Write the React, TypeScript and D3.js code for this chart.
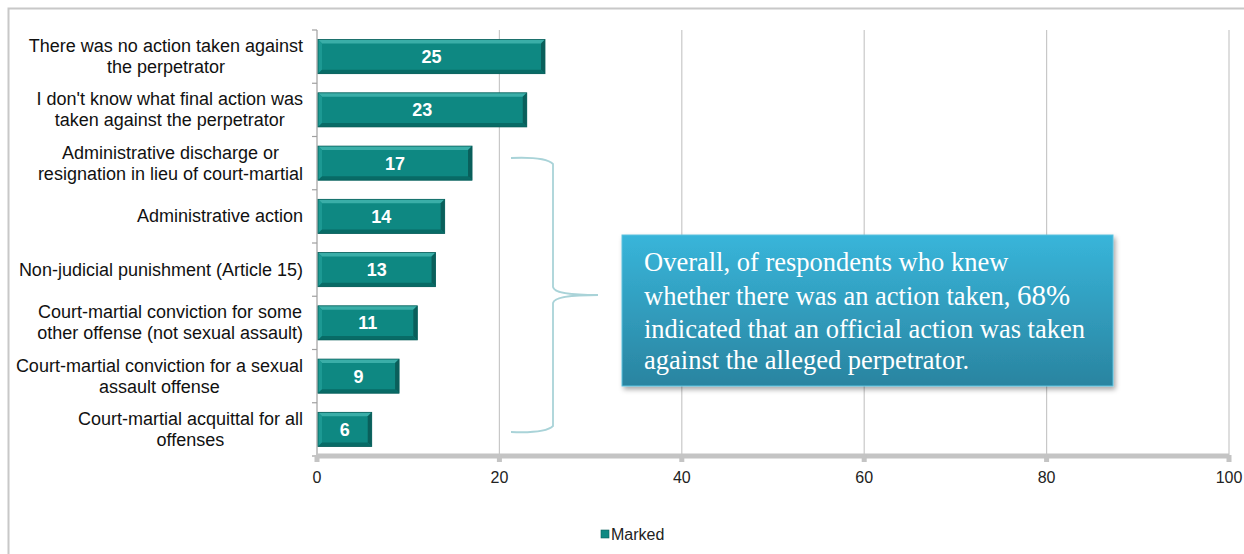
import React from "react";
import * as d3 from "d3";

const categories: string[][] = [
  ["There was no action taken against", "the perpetrator"],
  ["I don't know what final action was", "taken against the perpetrator"],
  ["Administrative discharge or", "resignation in lieu of court-martial"],
  ["Administrative action"],
  ["Non-judicial punishment (Article 15)"],
  ["Court-martial conviction for some", "other offense (not sexual assault)"],
  ["Court-martial conviction for a sexual", "assault offense"],
  ["Court-martial acquittal for all", "offenses"],
];
const values: number[] = [25, 23, 17, 14, 13, 11, 9, 6];
const xTicks: number[] = [0, 20, 40, 60, 80, 100];
const seriesName = "Marked";
const calloutLines: string[] = [
  "Overall, of respondents who knew",
  "whether there was an action taken, ",
  "indicated that an official action was taken",
  "against the alleged perpetrator.",
];

const W = 1244, H = 554;
const left = 317, right = 1229, top = 30, bottom = 456;
const LABEL_FONT = 18;
const LABEL_RIGHT = 303;

let ctx: CanvasRenderingContext2D | null = null;
function measure(s: string): number {
  if (!ctx) ctx = document.createElement("canvas").getContext("2d");
  if (!ctx) return s.length * LABEL_FONT * 0.5;
  ctx.font = `${LABEL_FONT}px Arial, 'Liberation Sans', sans-serif`;
  return ctx.measureText(s).width;
}

export default function App() {
  const x = d3.scaleLinear().domain([0, 100]).range([left, right]);
  const y = d3.scaleBand<number>().domain(d3.range(categories.length)).range([top, bottom]).paddingInner(0.36).paddingOuter(0.18);
  const band = (bottom - top) / categories.length;
  const bev = 4;
  return (
    <svg width={W} height={H} style={{ position: "absolute", left: 0, top: 0, display: "block" }} fontFamily="Arial, 'Liberation Sans', sans-serif">
      <defs>
        <linearGradient id="cg" x1="0" y1="0" x2="0" y2="1">
          <stop offset="0" stopColor="#38b5da" />
          <stop offset="1" stopColor="#2a84a0" />
        </linearGradient>
        <filter id="sh" x="-5%" y="-5%" width="115%" height="125%">
          <feDropShadow dx="2" dy="3" stdDeviation="2.5" floodColor="#000" floodOpacity="0.35" />
        </filter>
      </defs>
      <rect x={0} y={0} width={W} height={H} fill="#fff" />
      <rect x={8.5} y={8.5} width={W + 10} height={H + 10} fill="none" stroke="#c8c8c8" strokeWidth={2} />
      {xTicks.slice(1).map((t) => (
        <line key={t} x1={x(t)} x2={x(t)} y1={top} y2={bottom} stroke="#c8c8c8" strokeWidth={1.2} />
      ))}
      <line x1={left} x2={left} y1={top} y2={bottom} stroke="#a0a0a0" strokeWidth={1.2} />
      {d3.range(categories.length + 1).map((i) => (
        <line key={i} x1={left - 5} x2={left} y1={top + i * band} y2={top + i * band} stroke="#a0a0a0" strokeWidth={1.2} />
      ))}
      <line x1={left} x2={right} y1={bottom} y2={bottom} stroke="#c4c4c4" strokeWidth={5} />
      {xTicks.map((t) => (
        <g key={t}>
          <rect x={x(t) - 2.5} y={bottom - 1} width={5} height={7} fill="#c4c4c4" />
          <text x={x(t)} y={bottom + 27} textAnchor="middle" fontSize={16} fill="#222">{t}</text>
        </g>
      ))}
      {values.map((v, i) => {
        const y0 = y(i)!, h = y.bandwidth();
        const x0 = x(0) + 1, x1 = x(v);
        return (
          <g key={i}>
            <rect x={x0} y={y0} width={x1 - x0} height={h} fill="#0e8882" />
            <polygon points={`${x0},${y0} ${x1},${y0} ${x1 - bev},${y0 + bev} ${x0 + bev},${y0 + bev}`} fill="#3aaea8" />
            <polygon points={`${x0},${y0} ${x0 + bev},${y0 + bev} ${x0 + bev},${y0 + h - bev} ${x0},${y0 + h}`} fill="#1c9993" />
            <polygon points={`${x1},${y0} ${x1},${y0 + h} ${x1 - bev},${y0 + h - bev} ${x1 - bev},${y0 + bev}`} fill="#0a5f5b" />
            <polygon points={`${x0},${y0 + h} ${x1},${y0 + h} ${x1 - bev},${y0 + h - bev} ${x0 + bev},${y0 + h - bev}`} fill="#086b66" />
            <rect x={x0} y={y0} width={x1 - x0} height={h} fill="none" stroke="#0a5f5b" strokeWidth={0.8} />
            <text x={(x0 + x1) / 2} y={y0 + h / 2 + 6.5} textAnchor="middle" fontSize={18} fontWeight="bold" fill="#fff">{v}</text>
          </g>
        );
      })}
      {categories.map((lines, i) => {
        const cy = y(i)! + y.bandwidth() / 2;
        const lh = 21;
        const start = cy - ((lines.length - 1) * lh) / 2 + 6;
        const maxW = d3.max(lines, measure) ?? 0;
        const cx = LABEL_RIGHT - maxW / 2;
        return (
          <text key={i} textAnchor="middle" fontSize={LABEL_FONT} fill="#111">
            {lines.map((l, j) => (
              <tspan key={j} x={cx} y={start + j * lh}>{l}</tspan>
            ))}
          </text>
        );
      })}
      <path
        d={`M511,158 C535,157 548,159 553,164 L553,287 C554,292 565,295 598,295 C565,295 554,298 553,303 L553,426 C548,431 535,433 511,432`}
        fill="none" stroke="#a9d3d8" strokeWidth={1.8}
      />
      <rect x={622} y={235} width={491} height={151} fill="url(#cg)" filter="url(#sh)" stroke="#5cc2de" strokeWidth={1} />
      <g fontFamily="'Liberation Serif', 'Times New Roman', serif" fill="#fff" fontSize={26.5}>
        <text x={644} y={271}>{calloutLines[0]}</text>
        <text x={644} y={305}>{calloutLines[1]}<tspan fontSize={29}>68%</tspan></text>
        <text x={644} y={338}>{calloutLines[2]}</text>
        <text x={644} y={369}>{calloutLines[3]}</text>
      </g>
      <rect x={601} y={530} width={8} height={8} fill="#0e8882" stroke="#0a5f5b" strokeWidth={0.6} />
      <text x={611} y={540} fontSize={16} fill="#222">{seriesName}</text>
    </svg>
  );
}
